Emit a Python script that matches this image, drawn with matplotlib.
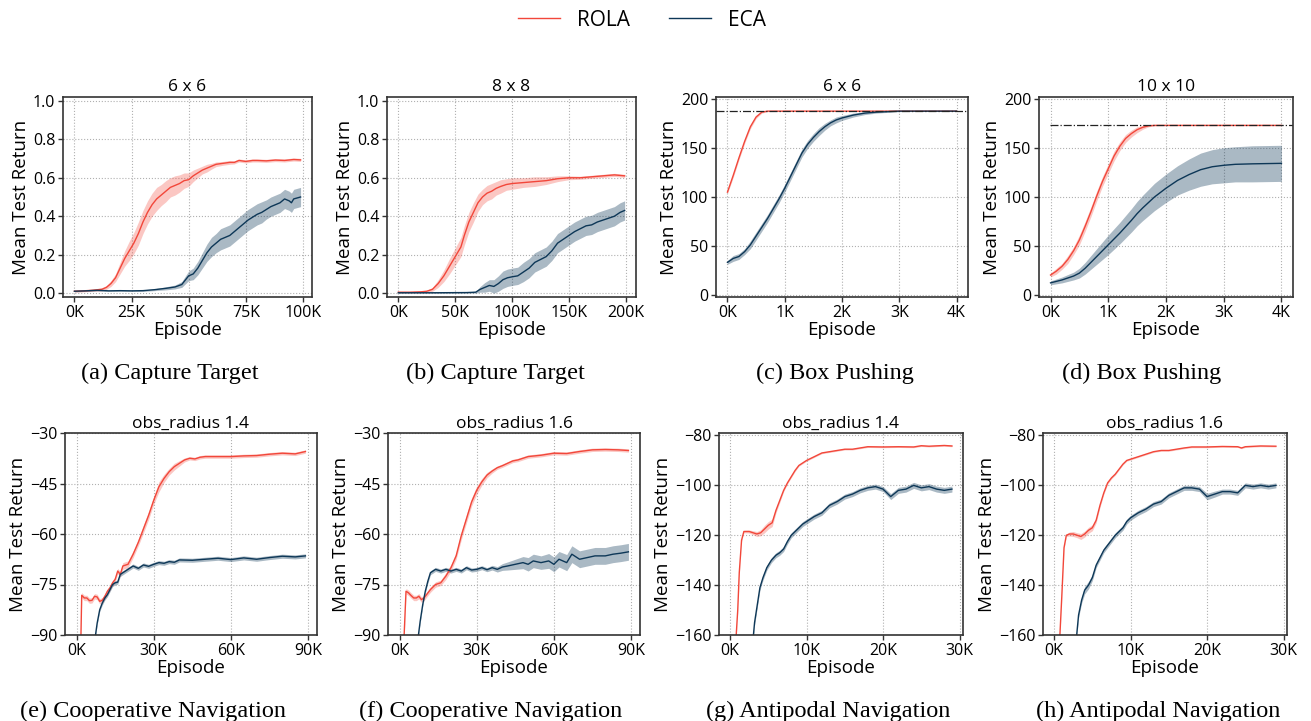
import numpy as np
import matplotlib
matplotlib.use('Agg')
import matplotlib.pyplot as plt
from matplotlib.ticker import FuncFormatter

plt.rcParams['font.family'] = ['Open Sans', 'DejaVu Sans']

# each series: (episode in K, mean return, spread)
cap6_rola = [(0, .010, .005), (4, .012, .005), (8, .015, .006), (12, .02, .008), (14, .03, .01), (16, .05, .015),
             (18, .08, .02), (20, .13, .03), (22, .18, .04), (24, .22, .05), (26, .26, .055), (28, .31, .06),
             (30, .37, .06), (32, .42, .06), (34, .46, .06), (36, .49, .06), (38, .51, .055), (40, .53, .055),
             (42, .55, .05), (44, .56, .05), (46, .57, .045), (48, .585, .04), (50, .59, .035), (52, .61, .03),
             (54, .625, .025), (56, .64, .02), (58, .65, .02), (60, .66, .015), (62, .67, .012), (65, .675, .01),
             (68, .68, .01), (70, .68, .008), (72, .69, .008), (75, .685, .008), (78, .69, .008), (80, .69, .008),
             (84, .688, .008), (88, .692, .008), (92, .69, .008), (96, .695, .008), (99, .693, .008)]
cap6_eca = [(0, .010, .003), (5, .012, .003), (10, .015, .004), (15, .012, .003), (20, .013, .003), (25, .012, .003),
            (30, .013, .004), (35, .018, .005), (40, .025, .008), (44, .032, .01), (47, .045, .015), (50, .09, .025),
            (52, .10, .03), (54, .13, .035), (56, .17, .04), (58, .21, .045), (60, .24, .05), (62, .26, .05),
            (64, .28, .055), (66, .29, .055), (68, .30, .055), (70, .32, .055), (72, .34, .055), (74, .36, .055),
            (76, .38, .055), (78, .395, .055), (80, .41, .055), (82, .42, .055), (84, .435, .05), (86, .45, .05),
            (88, .46, .05), (90, .47, .05), (92, .49, .05), (94, .48, .05), (95, .47, .05), (96, .49, .05),
            (99, .50, .05)]

cap8_rola = [(0, .005, .003), (10, .005, .003), (20, .007, .004), (25, .01, .005), (30, .02, .01), (35, .05, .02),
             (40, .09, .03), (45, .14, .04), (50, .19, .045), (55, .24, .05), (58, .30, .05), (62, .37, .05),
             (66, .42, .05), (70, .47, .045), (74, .50, .04), (78, .52, .04), (82, .53, .04), (86, .545, .035),
             (90, .555, .035), (95, .565, .03), (100, .57, .03), (110, .575, .025), (120, .58, .025), (130, .585, .02),
             (140, .595, .015), (150, .60, .01), (160, .60, .008), (170, .605, .008), (180, .61, .008),
             (190, .615, .008), (199, .61, .008)]
cap8_eca = [(0, .002, .002), (30, .002, .002), (60, .003, .003), (68, .005, .005), (72, .02, .015), (76, .03, .025),
            (80, .04, .03), (84, .035, .035), (88, .05, .04), (92, .07, .045), (96, .08, .045), (100, .085, .045),
            (105, .09, .045), (110, .11, .05), (115, .13, .05), (120, .16, .05), (125, .175, .05), (130, .19, .05),
            (135, .22, .05), (140, .26, .05), (145, .28, .05), (150, .30, .05), (155, .32, .05), (160, .335, .05),
            (165, .35, .05), (170, .355, .05), (175, .37, .05), (180, .38, .05), (185, .39, .05), (190, .40, .05),
            (195, .42, .05), (199, .43, .05)]

box6_rola = [(0, 105, 1.5), (0.1, 122, 2), (0.2, 140, 2), (0.3, 157, 2), (0.4, 172, 2), (0.5, 182, 1.5),
             (0.6, 187, 1), (0.7, 188, 0.5), (1.0, 188, 0.3), (2.0, 188, 0.3), (3.0, 188, 0.3), (4.0, 188, 0.3)]
box6_eca = [(0, 33, 2), (0.1, 37, 3), (0.2, 39, 3), (0.3, 44, 3), (0.4, 51, 4), (0.5, 60, 4), (0.6, 69, 4),
            (0.7, 78, 4), (0.8, 88, 4), (0.9, 98, 4), (1.0, 109, 4), (1.1, 121, 4), (1.2, 133, 4), (1.3, 145, 4),
            (1.4, 154, 4), (1.5, 161, 4), (1.6, 167, 4), (1.7, 172, 3.5), (1.8, 176, 3), (1.9, 179, 3),
            (2.0, 181, 2.5), (2.2, 184, 2), (2.4, 186, 1.5), (2.6, 187, 1), (3.0, 188, 0.5), (3.5, 188, 0.3),
            (4.0, 188, 0.3)]
box6_best = 188

box10_rola = [(0, 20, 2), (0.1, 24, 3), (0.2, 29, 3), (0.3, 36, 4), (0.4, 45, 4), (0.5, 56, 5), (0.6, 70, 5),
              (0.7, 85, 5), (0.8, 101, 5), (0.9, 116, 5), (1.0, 129, 5), (1.1, 142, 5), (1.2, 152, 4.5),
              (1.3, 160, 4), (1.4, 165, 3.5), (1.5, 169, 3), (1.6, 171.5, 2), (1.7, 173, 1), (1.8, 173.4, 0.5),
              (2.0, 173.4, 0.3), (3.0, 173.4, 0.3), (4.0, 173.4, 0.3)]
box10_eca = [(0, 12, 2), (0.2, 15, 3), (0.4, 19, 4), (0.5, 22, 5), (0.6, 27, 6), (0.7, 33, 7), (0.8, 39, 8),
             (0.9, 45, 9), (1.0, 51, 10), (1.2, 63, 11), (1.4, 76, 12), (1.5, 83, 12.5), (1.6, 89, 13),
             (1.8, 100, 14), (2.0, 109, 14.5), (2.2, 117, 15), (2.4, 123, 16), (2.6, 128, 17), (2.8, 131, 17.5),
             (3.0, 132.5, 18), (3.2, 133.5, 18), (3.5, 134, 18.5), (4.0, 134.5, 18.5)]
box10_best = 173.4

nav14_rola = [(1.2, -110, .5), (2, -78.2, .8), (3, -79, .8), (4, -79, .8), (5, -79.8, .8), (6, -79.7, .8),
              (7, -78.5, .8), (8, -78.7, .8), (9, -80, .8), (10, -79.7, .8), (11, -78.5, .8), (12, -77, .8),
              (13, -76, .8), (14, -74.5, .8), (15, -73.5, .8), (16, -71, .8), (17, -72, .8), (18, -69.5, 1),
              (20, -69, 1), (22, -66, 1), (24, -62.5, 1), (26, -58.5, 1.2), (28, -54.5, 1.2), (30, -50, 1.2),
              (32, -46, 1.5), (34, -43.5, 1.2), (36, -41.5, 1), (38, -40, 1), (40, -39, .8), (42, -38, .6),
              (44, -37.5, .5), (46, -37.7, .5), (48, -37.2, .5), (50, -37, .5), (55, -37, .5), (60, -37, .5),
              (65, -36.8, .5), (70, -36.7, .5), (75, -36.3, .5), (80, -36, .5), (85, -36.2, .5), (89, -35.5, .5)]
nav14_eca = [(7, -92, .5), (8, -86.5, .5), (9, -82.5, .5), (10, -80.5, .6), (11, -79, .6), (12, -78, .6),
             (13, -76.5, .6), (14, -75, .6), (15, -74.5, .6), (16, -74.3, .6), (17, -72, .6), (18, -71.5, .6),
             (20, -70.5, .6), (22, -69.5, .6), (24, -70.2, .6), (26, -69.2, .6), (28, -69.6, .6), (30, -69, .6),
             (32, -68.5, .6), (34, -68.7, .6), (36, -68.2, .6), (38, -68.4, .6), (40, -67.7, .6), (45, -67.8, .6),
             (50, -67.5, .6), (55, -67.2, .6), (60, -67.6, .6), (65, -67.1, .6), (70, -67.5, .6), (75, -67, .6),
             (80, -66.6, .6), (85, -66.8, .6), (89, -66.5, .6)]

nav16_rola = [(1.5, -95, .5), (2.5, -77, .8), (3.5, -77.5, .8), (4.5, -78.3, .8), (5.5, -79, .8), (6.5, -79, .8),
              (7.5, -78.5, .8), (8.5, -79.5, .8), (9.5, -79, .8), (10.5, -78, .8), (12, -76.5, .8), (14, -75, .8),
              (16, -74.5, .8), (18, -72.5, 1), (20, -70, 1), (22, -66.5, 1), (24, -60.5, 1.2), (26, -55.5, 1.2),
              (28, -50.5, 1.2), (30, -47, 1.2), (32, -44.5, 1), (34, -42.5, .8), (36, -41.3, .6), (38, -40.3, .5),
              (40, -39.7, .5), (42, -39, .5), (44, -38.3, .5), (46, -38, .5), (48, -37.5, .5), (50, -37, .5),
              (55, -36.6, .5), (60, -36, .5), (65, -36.1, .5), (70, -35.5, .5), (75, -35, .5), (80, -34.9, .5),
              (85, -35, .5), (89, -35.2, .5)]
nav16_eca = [(7, -92, .5), (8, -86, .5), (9, -81, .5), (10, -77, .6), (11, -74, .6), (12, -71.5, .6),
             (14, -70.5, .6), (16, -71, .6), (18, -70.5, .6), (20, -71, .6), (22, -70.5, .6), (24, -71, .6),
             (26, -70, .6), (28, -70.7, .6), (30, -70.5, .6), (32, -70, .6), (34, -70.6, .6), (36, -70, .7),
             (38, -70.5, .8), (40, -69.8, 1), (42, -69.5, 1.2), (45, -69, 1.5), (48, -68.5, 1.8), (50, -69, 2),
             (52, -68, 2), (55, -68.5, 2), (58, -68, 2.2), (60, -69, 2.2), (62, -67.5, 2.3), (65, -68.5, 2.4),
             (67, -66, 2.5), (70, -67.5, 2.5), (73, -67, 2.5), (76, -66.5, 2.5), (80, -66.5, 2.5), (83, -66, 2.5),
             (86, -65.7, 2.5), (89, -65.3, 2.5)]

anti14_rola = [(0.6, -170, .3), (1.0, -150, .3), (1.2, -135, .3), (1.5, -122, .3), (1.8, -118.5, .5),
               (2.5, -118.5, .6), (3, -119, .8), (3.5, -119.5, 1), (4, -119, 1.2), (4.5, -117.5, 1.5),
               (5, -116, 1.5), (5.5, -115, 1.5), (6, -110, 1), (6.5, -106, .8), (7, -102, .5), (7.5, -99, .4),
               (8, -96.5, .4), (8.5, -94, .4), (9, -92, .3), (10, -90, .3), (11, -88.5, .3), (12, -87, .3),
               (13, -86.5, .3), (14, -86, .3), (15, -85.5, .3), (16, -85.5, .3), (17, -85, .3), (18, -84.5, .3),
               (20, -84.6, .3), (22, -84.5, .3), (24, -84.6, .3), (25, -84.1, .3), (26, -84.3, .3), (28, -84, .3),
               (29, -84.2, .3)]
anti14_eca = [(2.9, -165, .8), (3.2, -155, 1), (3.5, -149, 1), (3.9, -141, 1), (4.3, -137, 1), (4.8, -133, 1),
              (5.4, -130, 1), (6, -128, 1), (6.5, -127, 1), (7, -125.5, 1), (7.5, -122.5, 1), (8, -120, 1),
              (8.5, -118.5, 1), (9, -117, 1), (9.5, -115.5, 1), (10, -114.5, 1), (11, -112.5, 1), (12, -111, 1),
              (13, -108, 1), (14, -106.5, 1), (15, -104.5, 1), (16, -103.5, 1), (17, -102, 1), (18, -101, 1),
              (19, -100.5, 1), (20, -101.5, 1), (21, -104.5, 1.2), (22, -102, 1.2), (23, -101.5, 1.2),
              (24, -100, 1.2), (25, -101, 1.2), (26, -100.5, 1.2), (27, -101.5, 1.2), (28, -102, 1.2),
              (29, -101.5, 1.2)]

anti16_rola = [(0.6, -170, .3), (1.0, -145, .3), (1.3, -125, .3), (1.6, -120, .5), (2, -119.5, .8),
               (2.5, -119.5, 1), (3, -120, 1), (3.5, -120.5, 1.2), (4, -119.5, 1.2), (4.5, -118, 1.2),
               (5, -117, 1.2), (5.5, -114, 1), (6, -108, .8), (6.5, -103, .6), (7, -99, .5), (7.5, -97, .4),
               (8, -95.5, .4), (8.5, -93.5, .3), (9, -91.5, .3), (9.5, -90, .3), (10, -89.5, .3), (11, -88.5, .3),
               (12, -87.5, .3), (13, -86.5, .3), (14, -86, .3), (15, -86, .3), (16, -85.5, .3), (17, -85, .3),
               (18, -84.6, .3), (20, -84.6, .3), (22, -84.4, .3), (24, -84.5, .3), (24.5, -85, .3), (25, -84.5, .3),
               (27, -84.2, .3), (29, -84.3, .3)]
anti16_eca = [(2.8, -165, .8), (3.2, -152, 1), (3.6, -146, 1.2), (4, -142, 1.5), (4.5, -140, 1.5), (5, -137, 1.2),
              (5.5, -132, 1), (6, -129, 1), (6.5, -126, 1), (7, -124, 1), (7.5, -122, 1), (8, -120, 1),
              (8.5, -118.5, 1), (9, -117, 1), (9.5, -114.5, 1), (10, -113, 1), (11, -111, 1), (12, -109.5, 1),
              (13, -107.5, 1), (14, -106.5, 1), (15, -104, 1), (16, -102.5, 1), (17, -101, 1), (18, -101, 1),
              (19, -101.5, 1), (20, -104.5, 1.3), (21, -103.5, 1.2), (22, -102.5, 1), (23, -102.5, 1),
              (24, -103, 1), (25, -100, 1), (26, -100.5, 1), (27, -100, 1), (28, -100.5, 1), (29, -100, 1)]

titles = ['6 x 6', '8 x 8', '6 x 6', '10 x 10',
          'obs_radius 1.4', 'obs_radius 1.6', 'obs_radius 1.4', 'obs_radius 1.6']
captions = ['(a) Capture Target', '(b) Capture Target', '(c) Box Pushing', '(d) Box Pushing',
            '(e) Cooperative Navigation', '(f) Cooperative Navigation',
            '(g) Antipodal Navigation', '(h) Antipodal Navigation']
xticks = [[0, 25, 50, 75, 100], [0, 50, 100, 150, 200], [0, 1, 2, 3, 4], [0, 1, 2, 3, 4],
          [0, 30, 60, 90], [0, 30, 60, 90], [0, 10, 20, 30], [0, 10, 20, 30]]
yticks = [np.arange(0, 1.01, 0.2), np.arange(0, 1.01, 0.2), [0, 50, 100, 150, 200], [0, 50, 100, 150, 200],
          [-90, -75, -60, -45, -30], [-90, -75, -60, -45, -30],
          [-160, -140, -120, -100, -80], [-160, -140, -120, -100, -80]]
ylims = [(-0.02, 1.02), (-0.02, 1.02), (-2.5, 202.5), (-2.5, 202.5),
         (-90, -30), (-90, -30), (-160, -79), (-160, -79)]
xlims = [(-5, 104), (-10, 209), (-0.2, 4.2), (-0.2, 4.2),
         (-4.5, 93.5), (-4.5, 93.5), (-1.45, 30.45), (-1.45, 30.45)]
panels = [(cap6_rola, cap6_eca), (cap8_rola, cap8_eca), (box6_rola, box6_eca), (box10_rola, box10_eca),
          (nav14_rola, nav14_eca), (nav16_rola, nav16_eca), (anti14_rola, anti14_eca), (anti16_rola, anti16_eca)]
best = {2: box6_best, 3: box10_best}

W, H = 1311, 721
# axes boxes in pixels: left, top, right, bottom
boxes = [(63, 97, 312, 297), (387, 97, 636, 297), (716, 97, 968, 297), (1039, 97, 1293, 297),
         (65, 433, 317, 635), (388, 433, 640, 635), (719, 433, 963, 635), (1043, 433, 1287, 635)]
cap_pos = [(170, 373), (495, 373), (835, 373), (1142, 373),
           (153, 711), (491, 711), (828, 711), (1158, 711)]

red = '#f2473a'
navy = '#0d3757'

fig = plt.figure(figsize=(W / 100, H / 100), dpi=100)

for i in range(8):
    l, t, r, b = boxes[i]
    ax = fig.add_axes([l / W, 1 - b / H, (r - l) / W, (b - t) / H])
    rola = np.array(panels[i][0])
    eca = np.array(panels[i][1])
    ax.fill_between(rola[:, 0], rola[:, 1] - rola[:, 2], rola[:, 1] + rola[:, 2], color=red, alpha=0.3, lw=0)
    ax.fill_between(eca[:, 0], eca[:, 1] - eca[:, 2], eca[:, 1] + eca[:, 2], color=navy, alpha=0.35, lw=0)
    l1, = ax.plot(rola[:, 0], rola[:, 1], color=red, lw=1.0, label='ROLA')
    l2, = ax.plot(eca[:, 0], eca[:, 1], color=navy, lw=1.0, label='ECA')
    if i in best:
        if i == 2:
            ax.axhline(best[i], color='#222222', lw=0.9, ls='-.')
        else:
            ax.axhline(best[i], xmin=0.045, color='#222222', lw=0.9, ls='-.')
    ax.set_xlim(xlims[i])
    ax.set_ylim(ylims[i])
    ax.set_xticks(xticks[i])
    ax.set_yticks(yticks[i])
    ax.xaxis.set_major_formatter(FuncFormatter(lambda v, p: '%dK' % round(v)))
    if i < 2:
        ax.yaxis.set_major_formatter(FuncFormatter(lambda v, p: '%.1f' % v))
    ax.grid(True, ls=':', color='#b0b0b0', lw=0.8)
    ax.set_axisbelow(True)
    for s in ax.spines.values():
        s.set_color('#333333')
        s.set_linewidth(1.2)
    ax.tick_params(labelsize=11.5, length=3.5, width=1, color='#333333', pad=2)
    ax.set_title(titles[i], fontsize=12.5, pad=4)
    ax.set_xlabel('Episode', fontsize=13.5, labelpad=0)
    ax.set_ylabel('Mean Test Return', fontsize=13.5, labelpad=2)
    cx, cy = cap_pos[i]
    fig.text(cx / W, 1 - cy / H, captions[i], ha='center', va='center',
             family='Liberation Serif', fontsize=17.5)

fig.legend([l1, l2], ['ROLA', 'ECA'], loc='center', bbox_to_anchor=(642 / W, 1 - 20 / H), ncol=2,
           frameon=False, fontsize=15, handlelength=2.0, columnspacing=1.9, handletextpad=0.8)

fig.savefig('out.png', dpi=100)
